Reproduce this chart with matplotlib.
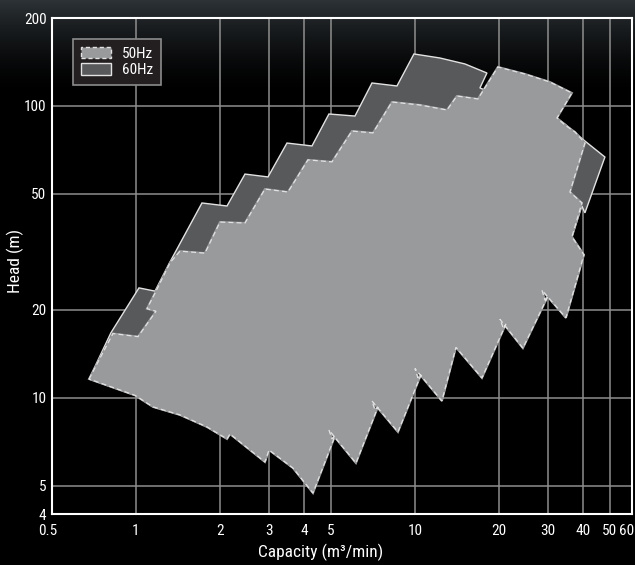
import numpy as np
import matplotlib
matplotlib.use("Agg")
import matplotlib.pyplot as plt
from matplotlib.patches import Patch
from matplotlib.ticker import NullLocator, FixedLocator, FixedFormatter
from matplotlib import font_manager
from matplotlib.transforms import ScaledTranslation

# ---------------- data ----------------
# 50Hz performance range outline (capacity m3/min, head m)
cap50 = [0.679, 0.827, 1.017, 1.180, 1.095, 1.180, 1.324, 1.438, 1.767, 2.00, 2.459,
         2.90, 3.507, 4.136, 5.042, 5.947, 7.072, 8.272, 10.42, 13.03, 14.14, 16.82,
         19.84, 24.78, 30.47, 36.54, 32.28, 34.49, 37.46, 40.68, 35.94, 39.68, 36.54,
         40.34, 34.77, 28.53, 29.24, 29.98, 24.38, 20.16, 20.67, 21.19, 17.39, 14.03,
         12.49, 10.00, 10.25, 10.51, 8.693, 7.014, 7.188, 7.369, 6.146, 4.917, 5.042,
         5.168, 4.311, 3.654, 2.998, 2.90, 2.173, 2.12, 1.797, 1.438, 1.151, 0.992]
head50 = [11.6, 16.6, 16.2, 19.8, 20.2, 23.2, 29.0, 31.8, 31.3, 40.0, 39.7,
          51.9, 50.7, 65.3, 64.3, 82.0, 80.8, 103.1, 100.7, 96.8, 108.1, 105.6,
          135.9, 128.6, 120.7, 110.7, 90.9, 86.0, 81.4, 74.6, 50.7, 46.5, 35.6,
          30.9, 18.8, 23.4, 21.6, 22.3, 14.8, 18.6, 17.5, 17.9, 11.7, 14.9,
          9.76, 12.6, 11.7, 12.0, 7.64, 9.76, 9.09, 9.31, 5.98, 7.76, 7.23,
          7.40, 4.72, 5.75, 6.63, 6.03, 7.52, 7.23, 7.95, 8.74, 9.31, 10.2]

# 60Hz performance range outline
cap60 = [0.679, 0.813, 1.025, 1.170, 1.324, 1.724, 2.120, 2.459, 2.973, 3.478, 4.275,
         4.917, 6.095, 7.014, 8.622, 9.919, 12.29, 15.11, 18.12, 17.10, 17.82, 32.28,
         34.49, 40.68, 47.98, 40.68, 39.68, 36.54, 40.34, 34.77, 28.53, 24.38, 20.16,
         17.39, 14.03, 12.49, 10.00, 8.693, 7.014, 6.146, 4.917, 4.311, 3.654, 2.998,
         2.90, 2.173, 2.12, 1.797, 1.438, 1.151, 0.992]
head60 = [11.6, 16.7, 23.8, 23.2, 29.2, 46.5, 45.4, 58.4, 57.1, 74.6, 72.9,
          93.8, 92.3, 119.8, 117.0, 150.6, 145.9, 139.2, 129.6, 115.2, 113.3, 90.9,
          86.7, 75.8, 66.8, 43.0, 45.4, 35.6, 30.9, 18.8, 23.4, 14.8, 18.6,
          11.7, 14.9, 9.76, 12.6, 7.64, 9.76, 5.98, 7.76, 4.72, 5.75, 6.63,
          6.03, 7.52, 7.23, 7.95, 8.74, 9.31, 10.2]

xticks = [0.5, 1, 2, 3, 4, 5, 10, 20, 30, 40, 50, 60]
xtick_labels = ["0.5", "1", "2", "3", "4", "5", "10", "20", "30", "40", "50", "60"]
xgrid = [1, 2, 3, 4, 5, 10, 20, 30, 40, 50]
yticks = [4, 5, 10, 20, 50, 100, 200]
ytick_labels = ["4", "5", "10", "20", "50", "100", "200"]
ygrid = [5, 10, 20, 50, 100]
series_labels = ["50Hz", "60Hz"]

# ---------------- style ----------------
avail = {f.name for f in font_manager.fontManager.ttflist}
family = "DejaVu Sans"
for cand in ["Liberation Sans Narrow", "Roboto Condensed", "Open Sans Condensed", "Liberation Sans"]:
    if cand in avail:
        family = cand
        break
plt.rcParams["font.family"] = [family, "DejaVu Sans"]

LIGHT = "#999a9c"
DARK = "#58595b"
EDGE = "#e2e2e2"
GRID = "#8e8e8e"
FS = 11
LFS = 12.5

fig = plt.figure(figsize=(6.35, 5.65), dpi=100, facecolor="black")

# background gradient
bg = fig.add_axes([0, 0, 1, 1], zorder=-10)
h = 565
t = np.linspace(0, 1, h)
fade = np.clip(1 - (t * h) / 95.0, 0, 1) ** 1.6
top = np.array([44, 50, 54]) / 255.0
img = (fade[:, None] * top[None, :])[:, None, :].repeat(4, axis=1)
bg.imshow(img, aspect="auto", extent=[0, 1, 0, 1], origin="upper")
bg.axis("off")

ax = fig.add_axes([52 / 635, 51 / 565, 580 / 635, 496 / 565])
ax.set_facecolor("none")
ax.set_xscale("log")
ax.set_yscale("log")
ax.set_xlim(0.5, 60)
ax.set_ylim(4, 200)

for gx in xgrid:
    ax.axvline(gx, color=GRID, lw=1.1, zorder=0.5)
for gy in ygrid:
    ax.axhline(gy, color=GRID, lw=1.1, zorder=0.5)

ax.fill(cap60, head60, facecolor=DARK, edgecolor=EDGE, lw=1.0, zorder=2)
ax.fill(cap50, head50, facecolor=LIGHT, edgecolor=LIGHT, lw=1.5, zorder=3)
ax.fill(cap50, head50, facecolor="none", edgecolor=EDGE, lw=0.9,
        linestyle=(0, (4, 2.5)), zorder=4)

ax.xaxis.set_major_locator(FixedLocator(xticks))
ax.xaxis.set_major_formatter(FixedFormatter(xtick_labels))
ax.xaxis.set_minor_locator(NullLocator())
ax.yaxis.set_major_locator(FixedLocator(yticks))
ax.yaxis.set_major_formatter(FixedFormatter(ytick_labels))
ax.yaxis.set_minor_locator(NullLocator())
ax.tick_params(axis="both", length=0, colors="white", labelsize=FS)
ax.tick_params(axis="x", pad=7)
ax.tick_params(axis="y", pad=4)

fig.canvas.draw()
xlabels = ax.get_xticklabels()
xlabels[0].set_transform(xlabels[0].get_transform() + ScaledTranslation(-4 / 100, 0, fig.dpi_scale_trans))
xlabels[-1].set_horizontalalignment("right")
xlabels[-1].set_transform(xlabels[-1].get_transform() + ScaledTranslation(2 / 100, 0, fig.dpi_scale_trans))

for s in ax.spines.values():
    s.set_color("white")
    s.set_linewidth(1.5)
    s.set_zorder(6)

fig.text(15 / 635, 1 - 261 / 565, "Head (m)", rotation=90, color="white",
         fontsize=LFS, ha="center", va="center")
fig.text(321 / 635, 1 - 552 / 565, "Capacity (m³/min)", color="white",
         fontsize=LFS, ha="center", va="center")

handles = [Patch(facecolor=LIGHT, edgecolor=EDGE, linestyle=(0, (3, 2)), lw=1.0),
           Patch(facecolor=DARK, edgecolor=EDGE, lw=1.0)]
leg = ax.legend(handles, series_labels, loc="upper left",
                bbox_to_anchor=((73 - 52) / 580, 1 - (39 - 18) / 496),
                borderaxespad=0, frameon=True, fancybox=False, framealpha=1,
                facecolor="#231f20", edgecolor="#8c8c8c", fontsize=FS,
                handlelength=2.0, handleheight=0.8, labelspacing=0.15,
                handletextpad=0.7, borderpad=0.5)
leg.get_frame().set_linewidth(1.2)
for txt in leg.get_texts():
    txt.set_color("white")
leg.set_zorder(10)

fig.savefig("out.png", dpi=100, facecolor="black")
